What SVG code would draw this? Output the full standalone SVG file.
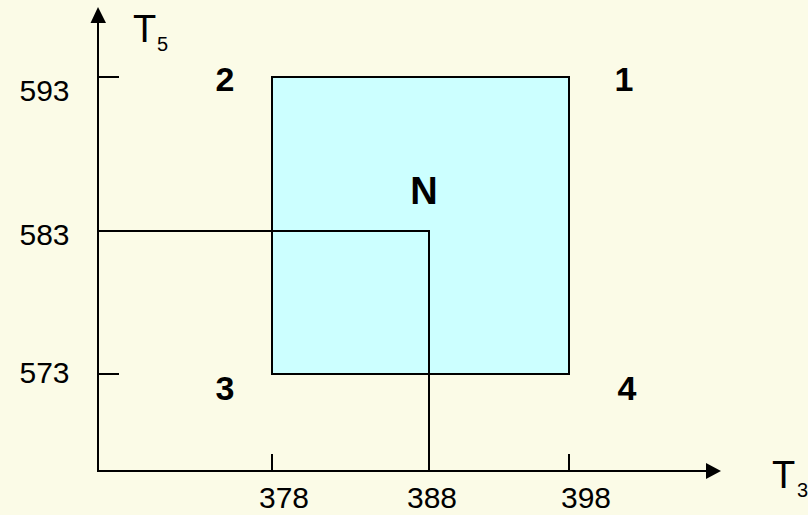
<svg xmlns="http://www.w3.org/2000/svg" width="808" height="515" viewBox="0 0 808 515">
  <style>
    .ax { stroke: #000; stroke-width: 2; fill: none; }
    .num { font-family: "Liberation Sans", Arial, sans-serif; font-size: 30px; fill: #000; text-anchor: middle; }
    .lbl { font-family: "Liberation Sans", Arial, sans-serif; font-size: 34px; font-weight: bold; fill: #000; text-anchor: middle; }
    .tt { font-family: "Liberation Sans", Arial, sans-serif; font-size: 38px; fill: #000; }
    .sub { font-family: "Liberation Sans", Arial, sans-serif; font-size: 20px; fill: #000; }
  </style>
  <rect x="0" y="0" width="808" height="515" fill="#FBFBE7"/>
  <g id="region">
    <rect x="272" y="77" width="297" height="297" fill="#CCFFFF" stroke="#000" stroke-width="2"/>
  </g>
  <g id="connectors">
    <line class="ax" x1="98" y1="20" x2="98" y2="471"/>
    <polygon points="98,7 90.5,23 106,23" fill="#000"/>
    <line class="ax" x1="97" y1="471" x2="708" y2="471"/>
    <polygon points="721,471 706,463 706,479" fill="#000"/>
    <line class="ax" x1="98" y1="77" x2="119" y2="77"/>
    <line class="ax" x1="98" y1="374" x2="119" y2="374"/>
    <line class="ax" x1="272" y1="454" x2="272" y2="471"/>
    <line class="ax" x1="569" y1="454" x2="569" y2="471"/>
    <polyline class="ax" points="98,231 429,231 429,471"/>
  </g>
  <g id="axis-labels">
    <text class="num" x="44.5" y="101">593</text>
    <text class="num" x="44.5" y="245">583</text>
    <text class="num" x="44.5" y="383">573</text>
    <text class="num" x="284" y="508">378</text>
    <text class="num" x="432" y="508">388</text>
    <text class="num" x="586" y="508">398</text>
    <text class="tt" x="133" y="42">T</text>
    <text class="sub" x="157" y="51">5</text>
    <text class="tt" x="772" y="488">T</text>
    <text class="sub" x="797" y="497">3</text>
  </g>
  <g id="corner-1"><text class="lbl" x="624" y="91">1</text></g>
  <g id="corner-2"><text class="lbl" x="225" y="91">2</text></g>
  <g id="corner-3"><text class="lbl" x="225" y="400">3</text></g>
  <g id="corner-4"><text class="lbl" x="627" y="400">4</text></g>
  <g id="point-N"><text class="lbl" x="424" y="204" style="font-size:38px">N</text></g>
</svg>
